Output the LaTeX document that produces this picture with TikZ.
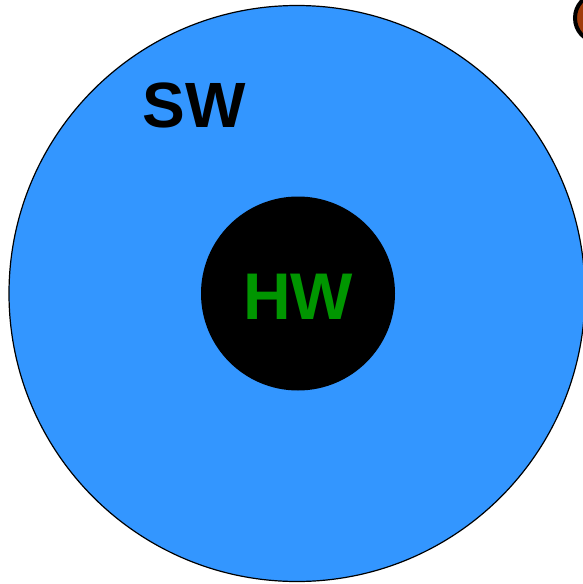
\documentclass[tikz,border=0pt]{standalone}
\usepackage{fontspec}
\setmainfont{Liberation Sans}
\definecolor{swblue}{RGB}{51,150,255}
\definecolor{hwgreen}{RGB}{0,150,0}
\definecolor{rimorange}{RGB}{160,60,10}
\begin{document}
\begin{tikzpicture}[x=1pt,y=-1pt,
  outer/.style={circle,draw=black,line width=1.2pt,fill=swblue,minimum size=576pt,inner sep=0pt},
  inner/.style={circle,fill=black,minimum size=194pt,inner sep=0pt},
  lbl/.style={font=\bfseries\fontsize{64}{64}\selectfont,inner sep=0pt}]
\useasboundingbox (0,0) rectangle (583,584);
\node[outer] (sw) at (297,293.5) {};
\node[inner] (hw) at (298,293.5) {};
\node[lbl,text=hwgreen,font=\bfseries\fontsize{66}{66}\selectfont] (hwl) at (298,297) {HW};
\node[lbl,text=black] (swl) at (194,105) {SW};
\begin{scope}
\clip (0,0) rectangle (583,584);
\draw[line width=4pt,fill=rimorange] (596,18) ellipse [x radius=21, y radius=23];
\end{scope}
\end{tikzpicture}
\end{document}
